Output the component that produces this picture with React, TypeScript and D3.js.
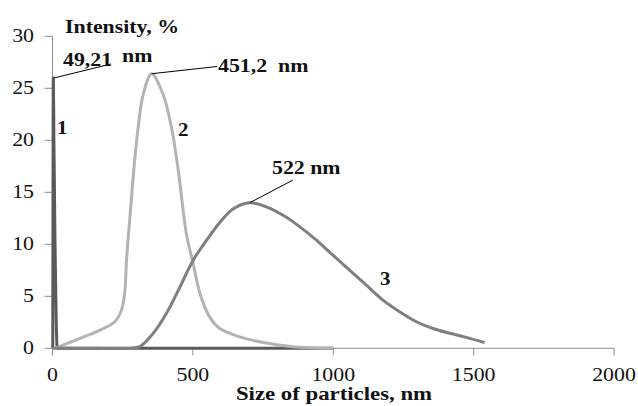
import React, { useEffect } from 'react';
import * as d3 from 'd3';

// particle size distribution
const sizes1 = [1, 3, 5, 9, 13, 17, 30, 200, 500, 1000];
const intensity1 = [0, 26, 20, 10, 3, 0, 0, 0, 0, 0];

const sizes2 = [9, 98, 169, 222, 246, 258, 263, 269, 280, 290, 305, 323, 353, 394, 424, 448, 477, 501, 525, 560, 596, 667, 762, 857, 1000];
const intensity2 = [0, 0.95, 1.75, 2.55, 3.7, 5.6, 8.2, 10.4, 14.0, 17.3, 21.2, 24.4, 26.4, 24.4, 21.2, 17.1, 11.0, 8.15, 5.3, 3.0, 1.9, 1.1, 0.5, 0.15, 0];

const sizes3 = [0, 150, 280, 311, 359, 406, 454, 501, 549, 596, 643, 703, 762, 833, 880, 940, 999, 1059, 1118, 1177, 1237, 1296, 1355, 1415, 1474, 1539];
const intensity3 = [0, 0, 0, 0.16, 1.44, 3.36, 5.9, 8.47, 10.4, 12.1, 13.4, 14.0, 13.6, 12.6, 11.7, 10.4, 8.95, 7.5, 6.07, 4.63, 3.5, 2.55, 1.9, 1.44, 1.05, 0.54];

const xTicks = [0, 500, 1000, 1500, 2000];
const yTicks = [0, 5, 10, 15, 20, 25, 30];

const font = '"Liberation Serif", "Times New Roman", serif';

function Txt({ x, y, sx = 1.15, size = 19, bold = false, anchor = 'start', children }: any) {
  return (
    <text
      transform={`translate(${x},${y}) scale(${sx},1)`}
      fontFamily={font}
      fontSize={size}
      fontWeight={bold ? 'bold' : 'normal'}
      textAnchor={anchor}
      fill="#111"
    >
      {children}
    </text>
  );
}

export default function App() {
  useEffect(() => {
    document.body.style.margin = '0';
  }, []);

  const x = d3.scaleLinear().domain([0, 2000]).range([52.5, 614]);
  const y = d3.scaleLinear().domain([0, 30]).range([348.3, 36.3]);

  const spike = d3
    .line<[number, number]>()
    .x((d) => x(d[0]))
    .y((d) => y(d[1]))
    .curve(d3.curveMonotoneX);

  const smooth = d3
    .line<[number, number]>()
    .x((d) => x(d[0]))
    .y((d) => y(d[1]))
    .curve(d3.curveCatmullRom.alpha(0.5));

  const s1 = sizes1.map((s, i) => [s, intensity1[i]] as [number, number]);
  const s2 = sizes2.map((s, i) => [s, intensity2[i]] as [number, number]);
  const s3 = sizes3.map((s, i) => [s, intensity3[i]] as [number, number]);

  const peak = (s: [number, number][]) => s.reduce((a, b) => (b[1] > a[1] ? b : a));
  const p1 = peak(s1);
  const p2 = peak(s2);
  const p3 = peak(s3);

  return (
    <svg width={638} height={406} style={{ display: 'block', background: '#fff' }}>
      {/* axes */}
      <g stroke="#8c8c8c" strokeWidth={1} fill="none">
        <line x1={x(0)} x2={x(0)} y1={y(30)} y2={y(0)} />
        <line x1={x(0)} x2={x(2000)} y1={y(0)} y2={y(0)} />
        {yTicks.map((t) => (
          <line key={'yt' + t} x1={x(0) - 8} x2={x(0)} y1={y(t)} y2={y(t)} />
        ))}
        {xTicks.map((t) => (
          <line key={'xt' + t} x1={x(t)} x2={x(t)} y1={y(0)} y2={y(0) + 7} />
        ))}
      </g>
      {yTicks.map((t) => (
        <Txt key={'yl' + t} x={34} y={y(t) + 6} anchor="end">
          {t}
        </Txt>
      ))}
      {xTicks.map((t) => (
        <Txt key={'xl' + t} x={x(t)} y={381} anchor="middle">
          {t}
        </Txt>
      ))}

      {/* curves */}
      <path d={spike(s1) || ''} fill="none" stroke="#595959" strokeWidth={3} />
      <path d={smooth(s2) || ''} fill="none" stroke="#b3b3b3" strokeWidth={3} />
      <path d={smooth(s3) || ''} fill="none" stroke="#7f7f7f" strokeWidth={3} />

      {/* leader lines */}
      <g stroke="#000" strokeWidth={1}>
        <line x1={x(p1[0]) + 1} y1={y(p1[1])} x2={111} y2={64} />
        <line x1={x(p2[0])} y1={y(p2[1])} x2={217} y2={66.5} />
        <line x1={x(p3[0])} y1={y(p3[1])} x2={293} y2={180} />
      </g>

      {/* labels */}
      <Txt x={65} y={33} bold sx={1.15}>Intensity, %</Txt>
      <Txt x={334} y={400} bold sx={1.2} anchor="middle">Size of particles, nm</Txt>
      <Txt x={63} y={66} bold sx={1.15}>49,21</Txt>
      <Txt x={122} y={61.5} bold sx={1.15}>nm</Txt>
      <Txt x={218} y={72} bold sx={1.15}>{'451,2\u00a0 nm'}</Txt>
      <Txt x={272} y={174} bold sx={1.15}>522 nm</Txt>
      <Txt x={57} y={134} bold sx={1.1}>1</Txt>
      <Txt x={178} y={136} bold sx={1.1}>2</Txt>
      <Txt x={380} y={285} bold sx={1.1}>3</Txt>
    </svg>
  );
}
